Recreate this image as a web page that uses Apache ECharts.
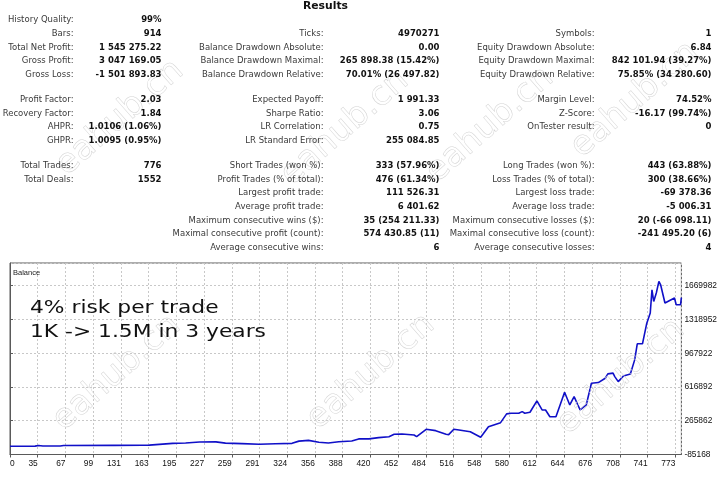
<!DOCTYPE html>
<html>
<head>
<meta charset="utf-8">
<title>Results</title>
<script src="https://cdn.jsdelivr.net/npm/echarts@6/dist/echarts.min.js"></script>
<style>
  html, body { margin: 0; padding: 0; background: #fff; }
  #main { width: 720px; height: 480px; }
</style>
</head>
<body>
<div id="main"></div>
<script>
// report table, one array per column: [label, value, row]
var col1 = [
    ["History Quality:", "99%", 0],
    ["Bars:", "914", 1],
    ["Total Net Profit:", "1 545 275.22", 2],
    ["Gross Profit:", "3 047 169.05", 3],
    ["Gross Loss:", "-1 501 893.83", 4],
    ["Profit Factor:", "2.03", 5],
    ["Recovery Factor:", "1.84", 6],
    ["AHPR:", "1.0106 (1.06%)", 7],
    ["GHPR:", "1.0095 (0.95%)", 8],
    ["Total Trades:", "776", 9],
    ["Total Deals:", "1552", 10]
];
var col2 = [
    ["Ticks:", "4970271", 1],
    ["Balance Drawdown Absolute:", "0.00", 2],
    ["Balance Drawdown Maximal:", "265 898.38 (15.42%)", 3],
    ["Balance Drawdown Relative:", "70.01% (26 497.82)", 4],
    ["Expected Payoff:", "1 991.33", 5],
    ["Sharpe Ratio:", "3.06", 6],
    ["LR Correlation:", "0.75", 7],
    ["LR Standard Error:", "255 084.85", 8],
    ["Short Trades (won %):", "333 (57.96%)", 9],
    ["Profit Trades (% of total):", "476 (61.34%)", 10],
    ["Largest profit trade:", "111 526.31", 11],
    ["Average profit trade:", "6 401.62", 12],
    ["Maximum consecutive wins ($):", "35 (254 211.33)", 13],
    ["Maximal consecutive profit (count):", "574 430.85 (11)", 14],
    ["Average consecutive wins:", "6", 15]
];
var col3 = [
    ["Symbols:", "1", 1],
    ["Equity Drawdown Absolute:", "6.84", 2],
    ["Equity Drawdown Maximal:", "842 101.94 (39.27%)", 3],
    ["Equity Drawdown Relative:", "75.85% (34 280.60)", 4],
    ["Margin Level:", "74.52%", 5],
    ["Z-Score:", "-16.17 (99.74%)", 6],
    ["OnTester result:", "0", 7],
    ["Long Trades (won %):", "443 (63.88%)", 9],
    ["Loss Trades (% of total):", "300 (38.66%)", 10],
    ["Largest loss trade:", "-69 378.36", 11],
    ["Average loss trade:", "-5 006.31", 12],
    ["Maximum consecutive losses ($):", "20 (-66 098.11)", 13],
    ["Maximal consecutive loss (count):", "-241 495.20 (6)", 14],
    ["Average consecutive losses:", "4", 15]
];

// balance chart
var xLabels = ["0", "35", "67", "99", "131", "163", "195", "227", "259", "291", "324", "356",
    "388", "420", "452", "484", "516", "548", "580", "612", "644", "676", "708", "741", "773"];
var yLabels = ["-85168", "265862", "616892", "967922", "1318952", "1669982"];
var tradeNo = [0, 29, 33, 38, 58, 62, 120, 153, 155, 161, 163, 188, 203, 219, 238, 249, 268, 288,
    307, 326, 334, 345, 357, 368, 380, 395, 403, 415, 426, 438, 444, 453, 467, 470, 481, 492, 504,
    507, 513, 519, 532, 544, 553, 567, 574, 579, 588, 592, 595, 601, 609, 615, 619, 624, 631, 641,
    647, 652, 659, 666, 672, 680, 688, 691, 697, 699, 703, 709, 717, 722, 725, 731, 736, 740, 742,
    744, 747, 750, 752, 757, 768, 770, 775, 776];
var balance = [1000, 1800, 9000, 2500, 3500, 9000, 10000, 11000, 20000, 12000, 19000, 31000, 35000,
    45000, 46000, 33000, 28000, 21000, 27000, 31000, 54000, 62000, 42000, 34000, 48000, 55000, 77000,
    77000, 90000, 100000, 125000, 128000, 118000, 100000, 177000, 163000, 125000, 121000, 177000,
    170000, 152000, 94000, 204000, 246000, 337000, 344000, 344000, 361000, 344000, 354000, 472000,
    378000, 378000, 308000, 308000, 563000, 430000, 517000, 378000, 430000, 656000, 663000, 708000,
    753000, 761000, 725000, 673000, 732000, 753000, 899000, 1066000, 1066000, 1281000, 1386000,
    1628000, 1506000, 1594000, 1715000, 1680000, 1490000, 1542000, 1472000, 1472000, 1546275];

var yBase = -85168, yStep = 351030, xStep = 32.04;
var labelFont = "DejaVu Sans";

var graphics = [];
var rowY = [20, 33.5, 47.3, 61, 74.8, 99.8, 113.3, 127, 140.7, 165.8, 179.4, 193, 206.7, 220.3, 234, 247.7];
function addColumn(rows, labelRight, valueRight) {
    rows.forEach(function(r) {
        var y = rowY[r[2]];
        graphics.push({
            type: "text", x: labelRight, y: y, z: 10,
            style: { text: r[0], align: "right", verticalAlign: "middle",
                font: "8.5px " + labelFont, fill: "#3a3a3a" }
        });
        graphics.push({
            type: "text", x: valueRight, y: y, z: 10,
            style: { text: r[1], align: "right", verticalAlign: "middle",
                font: "bold 8.5px " + labelFont, fill: "#111" }
        });
    });
}

graphics.push({
    type: "text", x: 325.5, y: 6.5, z: 10,
    style: { text: "Results", align: "center", verticalAlign: "middle",
        font: "bold 10.8px " + labelFont, fill: "#111" }
});
addColumn(col1, 73.5, 161.5);
addColumn(col2, 323.5, 439.5);
addColumn(col3, 594.5, 711.5);

// faint watermark
[[120, 118], [345, 128], [490, 125], [635, 100], [117, 373], [371, 372], [621, 377]].forEach(function(p) {
    graphics.push({
        type: "text", x: p[0], y: p[1], rotation: 0.72, z: 5, silent: true,
        style: { text: "eahub.cn", align: "center", verticalAlign: "middle",
            font: "34px " + labelFont, fill: "rgba(0,0,0,0)", stroke: "#d4d4d4", lineWidth: 0.5 }
    });
});

graphics.push({
    type: "text", x: 13, y: 272.5, z: 10,
    style: { text: "Balance", verticalAlign: "middle", font: "7.5px Liberation Sans", fill: "#222" }
});
graphics.push({
    type: "text", x: 30, y: 308, scaleX: 1.21, z: 10,
    style: { text: "4% risk per trade", verticalAlign: "middle", font: "18px " + labelFont, fill: "#111" }
});
graphics.push({
    type: "text", x: 30, y: 332, scaleX: 1.21, z: 10,
    style: { text: "1K -> 1.5M in 3 years", verticalAlign: "middle", font: "18px " + labelFont, fill: "#111" }
});

var chart = echarts.init(document.getElementById("main"));
chart.setOption({
    backgroundColor: "#fff",
    animation: false,
    grid: {
        left: 10, right: 37, top: 263, bottom: 25.5,
        show: true, borderColor: "#5a5a5a", borderWidth: 1
    },
    xAxis: {
        type: "value", min: 0, max: 776, interval: xStep,
        axisLine: { show: true, lineStyle: { color: "#5a5a5a" } },
        axisTick: { show: true, length: 3, lineStyle: { color: "#5a5a5a" } },
        splitLine: { show: true, lineStyle: { color: "#c8c8c8", type: [2, 2] } },
        axisLabel: {
            margin: 5, align: "right", alignMinLabel: "left", showMaxLabel: false,
            fontSize: 8.4, fontFamily: "Liberation Sans", color: "#111",
            formatter: function(v) {
                var i = Math.round(v / xStep);
                return Math.abs(v - i * xStep) < 1 && xLabels[i] ? xLabels[i] : "";
            }
        }
    },
    yAxis: {
        type: "value", position: "right", min: 0, max: 1991600, interval: yStep,
        axisLine: { show: true, lineStyle: { color: "#5a5a5a" } },
        axisTick: { show: true, length: 3, lineStyle: { color: "#5a5a5a" } },
        splitLine: { show: true, lineStyle: { color: "#c8c8c8", type: [2, 2] } },
        axisLabel: {
            margin: 3, align: "left", showMaxLabel: false,
            fontSize: 8.4, fontFamily: "Liberation Sans", color: "#111",
            formatter: function(v) {
                var i = Math.round(v / yStep);
                return Math.abs(v - i * yStep) < 1 && yLabels[i] ? yLabels[i] : "";
            }
        }
    },
    series: [{
        name: "Balance",
        type: "line",
        showSymbol: false,
        symbol: "none",
        lineStyle: { color: "#1010c8", width: 1.6 },
        data: tradeNo.map(function(t, i) { return [t, balance[i] - yBase]; }),
        z: 3
    }],
    graphic: graphics
});
</script>
</body>
</html>
